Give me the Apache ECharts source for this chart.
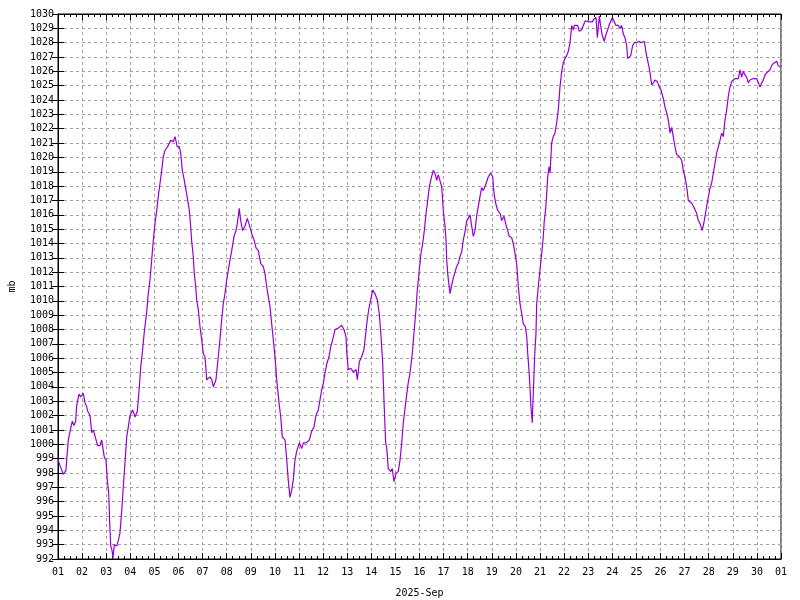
<!DOCTYPE html>
<html><head><meta charset="utf-8">
<script src="https://cdn.jsdelivr.net/npm/echarts@6/dist/echarts.min.js"></script>
<style>html,body{margin:0;padding:0;background:#fff}#c{width:800px;height:600px}</style>
</head><body><div id="c"></div>
<script>
// hours since 2025-09-01 00:00
const hours = [0,1.0,5.3,8.0,8.7,10.3,12.6,14.2,15.9,17.6,18.6,20.9,22.6,25.2,26.9,28.6,29.6,31.9,33.6,35.2,37.5,39.5,41.8,43.5,45.1,46.1,47.8,49.1,50.5,51.5,52.5,53.8,54.8,56.1,58.5,60.1,61.7,63.4,65.0,66.7,68.4,70.0,71.7,74.4,76.7,79.0,81.0,82.4,84.0,
85.9,88.3,89.9,91.6,93.3,94.9,96.6,98.3,99.9,101.6,103.3,104.9,106.6,109.2,112.2,114.8,116.5,118.8,120.8,122.2,123.8,125.8,127.5,129.2,130.8,132.1,133.1,134.7,135.7,137.1,138.1,139.7,141.4,143.1,144.7,146.4,148.1,151.4,153.1,154.7,157.3,159.6,161.3,163.0,164.6,166.3,168.0,169.6,171.3,173.0,175.3,177.3,178.6,180.5,181.9,183.9,186.2,188.5,190.5,192.9,195.2,197.2,199.5,201.9,204.4,206.1,207.8,209.4,211.1,212.8,215.1,216.8,217.8,
220.1,221.8,223.4,226.1,227.8,229.3,231.0,232.7,234.3,236.0,237.7,240.3,242.7,244.3,247.0,250.3,252.6,254.9,256.9,259.2,260.9,262.6,264.2,265.9,267.6,269.9,271.6,273.6,275.9,279.1,282.5,284.8,286.8,287.5,289.1,291.5,294.1,296.8,298.1,300.1,302.4,304.7,306.4,308.0,309.7,311.4,313.4,315.7,318.0,320.0,321.7,323.4,324.6,326.3,327.3,328.9,331.3,332.9,334.6,336.6,338.9,340.6,342.3,343.9,345.6,
347.3,348.8,350.5,352.8,354.8,356.5,357.8,359.8,361.5,363.2,364.8,366.5,368.2,369.8,371.5,373.7,375.4,377.1,378.7,380.4,382.1,383.7,385.4,386.4,387.1,388.1,389.4,390.4,392.1,393.7,395.4,397.0,398.6,400.3,402.0,403.6,405.3,407.0,408.6,410.3,412.0,413.6,415.3,416.9,418.6,420.3,421.9,423.5,425.2,426.9,428.5,430.9,432.9,434.2,435.9,437.9,440.2,441.9,444.1,446.1,447.8,449.4,451.8,453.4,455.1,456.8,458.4,460.1,461.8,463.4,465.4,466.8,467.8,469.0,470.0,471.0,472.3,473.3,474.3,475.0,476.0,476.7,478.3,480.0,481.7,483.3,484.3,485.7,486.7,487.7,489.0,
490.0,491.6,493.2,494.9,496.6,498.2,499.9,501.6,503.2,504.9,506.6,508.2,509.9,511.6,513.2,514.2,515.9,517.5,519.1,521.5,523.1,524.8,527.1,529.8,532.5,533.1,535.8,537.1,539.1,540.4,542.0,544.0,545.4,547.4,548.7,550.4,552.0,553.7,555.7,558.0,559.7,561.3,563.0,564.6,566.3,567.3,568.9,570.3,572.3,573.9,576.3,578.6,580.6,582.3,583.9,585.6,586.9,588.3,589.6,591.2,592.8,594.5,596.8,598.8,600.5,602.8,604.5,606.2,607.8,609.5,611.2,612.7,614.4,616.1,618.7,621.1,622.7,624.4,626.1,627.7,629.4,631.1,632.7,634.4,636.0,637.6,639.3,641.6,643.6,645.3,647.0,649.3,650.9,652.6,654.3,655.9,657.6,659.3,660.9,662.5,664.2,665.9,667.5,669.2,670.9,672.5,674.2,675.8,677.5,679.2,680.8,682.5,684.1,685.8,687.4,689.1,690.8,692.4,694.1,695.8,697.4,699.1,700.8,702.4,704.1,705.7,707.4,709.0,710.7,712.3,714.0,715.7,717.3,719.0];
const pressure = [999.0,998.7,997.9,998.2,999.0,1000.3,1001.1,1001.6,1001.3,1001.6,1002.7,1003.5,1003.3,1003.55,1002.9,1002.6,1002.3,1002.0,1000.8,1001.0,1000.4,999.9,999.9,1000.3,1000.2,999.1,998.9,997.5,996.6,994.5,992.9,992.6,992.1,993.0,992.9,993.3,993.8,995.3,997.0,998.7,1000.5,1001.2,1002.0,1002.4,1001.9,1002.3,1004.0,1005.4,1006.4,
1007.8,1009.2,1010.5,1011.45,1012.85,1014.2,1015.4,1016.3,1017.3,1018.2,1019.1,1020.05,1020.5,1020.75,1021.2,1021.1,1021.45,1020.75,1020.75,1020.3,1019.1,1018.4,1017.7,1017.0,1016.3,1015.2,1014.2,1013.1,1011.9,1011.0,1010.06,1009.4,1008.2,1007.3,1006.3,1006.1,1004.5,1004.7,1004.5,1004.0,1004.5,1006.1,1007.3,1008.7,1009.8,1010.5,1011.45,1012.15,1012.85,1013.5,1014.5,1014.9,1015.4,1016.45,1015.6,1014.9,1015.2,1015.75,1015.3,1014.7,1014.25,1013.7,1013.5,1012.6,1012.4,1011.9,1011.0,1010.3,1009.6,1008.4,1006.8,1005.5,1004.5,
1002.9,1001.9,1000.5,1000.3,998.9,997.5,996.3,996.8,997.5,998.9,999.5,1000.1,999.7,1000.1,1000.1,1000.3,1000.9,1001.2,1002.0,1002.4,1003.1,1003.8,1004.25,1004.95,1005.6,1006.1,1006.8,1007.3,1008.0,1008.1,1008.3,1008.0,1007.5,1006.45,1005.2,1005.3,1005.05,1005.2,1004.5,1005.75,1006.1,1006.6,1007.7,1008.7,1009.5,1010.06,1010.75,1010.5,1010.06,1009.1,1007.5,1005.6,1003.1,1000.1,999.8,998.3,998.1,998.3,997.4,997.95,998.1,998.9,1000.1,1001.5,1002.5,
1003.5,1004.3,1004.95,1006.3,1008.0,1009.4,1010.75,1012.15,1013.3,1014.0,1014.9,1016.1,1017.0,1017.95,1018.5,1019.1,1018.9,1018.4,1018.8,1018.8,1017.95,1016.3,1015.2,1014.25,1012.85,1011.9,1011.1,1010.5,1011.1,1011.6,1012.0,1012.4,1012.6,1013.1,1013.4,1014.25,1014.8,1015.6,1015.75,1016.0,1015.2,1014.5,1014.9,1015.9,1016.6,1017.3,1017.9,1017.7,1017.95,1018.3,1018.65,1018.9,1018.65,1017.5,1016.8,1016.3,1016.1,1015.6,1015.9,1015.3,1014.9,1014.5,1014.4,1014.0,1013.3,1012.6,1011.0,1009.8,1009.1,1008.4,1008.2,1007.5,1006.3,1005.2,1004.0,1002.6,1001.5,1003.55,1005.4,1006.6,1007.7,1009.8,1011.0,1012.15,1013.3,1014.5,1015.6,1016.45,1017.5,1018.65,1019.35,
1018.9,1021.0,1021.45,1021.7,1022.4,1023.3,1024.9,1026.0,1026.6,1026.9,1027.1,1027.4,1028.0,1029.2,1028.9,1029.2,1029.2,1029.2,1028.8,1028.9,1028.9,1029.5,1029.5,1029.45,1029.45,1029.6,1029.75,1028.35,1029.85,1029.2,1028.5,1028.1,1028.5,1028.9,1029.2,1029.5,1029.75,1029.5,1029.2,1029.2,1029.0,1029.2,1028.6,1028.35,1027.8,1026.9,1026.9,1027.1,1027.8,1028.0,1028.0,1028.1,1028.0,1028.1,1028.1,1027.3,1026.85,1026.4,1025.9,1025.05,1025.2,1025.4,1025.3,1024.9,1024.7,1024.1,1023.5,1023.1,1022.6,1021.7,1022.1,1021.45,1020.75,1020.2,1020.05,1019.8,1019.1,1018.65,1017.95,1017.0,1016.9,1016.8,1016.6,1016.55,1016.1,1015.6,1015.4,1014.9,1015.6,1016.3,1017.0,1017.85,1018.2,1018.9,1019.6,1020.3,1020.4,1021.2,1021.7,1021.45,1022.6,1023.3,1024.25,1024.9,1025.3,1025.4,1025.5,1025.6,1025.5,1026.1,1025.6,1026.0,1025.75,1025.6,1025.2,1025.4,1025.5,1025.5,1025.4,1025.5,1025.4,1024.9,1025.2,1025.4,1025.75,1025.9,1026.0,1026.1,1026.4,1026.55,1026.6,1026.7,1026.4,1026.3];
const dayLabels = ['01','02','03','04','05','06','07','08','09','10','11','12','13','14','15','16','17','18','19','20','21','22','23','24','25','26','27','28','29','30','01'];
const yName = 'mb';
const xName = '2025-Sep';

const data = hours.map((h, i) => [h, pressure[i]]);
const font = 'DejaVu Sans Mono';
const gridLine = {show: true, lineStyle: {color: '#a0a0a0', type: [3, 3], width: 1}};
const chart = echarts.init(document.getElementById('c'), null, {renderer: 'canvas'});
chart.setOption({
  animation: false,
  backgroundColor: '#ffffff',
  grid: {left: 58, right: 19, top: 14, bottom: 41, outerBoundsMode: 'none', containLabel: false, show: true, borderColor: '#000', borderWidth: 1, backgroundColor: 'transparent'},
  xAxis: [{
    type: 'value', min: 0, max: 720, interval: 24, position: 'bottom',
    name: xName, nameLocation: 'middle', nameGap: 29,
    nameTextStyle: {fontFamily: font, fontSize: 10, color: '#000'},
    axisLine: {show: true, lineStyle: {color: '#000'}},
    axisTick: {show: true, inside: true, length: 6, lineStyle: {color: '#000'}},
    minorTick: {show: true, splitNumber: 4, length: 3, lineStyle: {color: '#000'}},
    axisLabel: {fontFamily: font, fontSize: 10, color: '#000', margin: 8, formatter: v => dayLabels[Math.round(v / 24)]},
    splitLine: gridLine
  }, {
    type: 'value', min: 0, max: 720, interval: 24, position: 'top',
    axisLine: {show: true, lineStyle: {color: '#000'}},
    axisTick: {show: true, inside: true, length: 6, lineStyle: {color: '#000'}},
    minorTick: {show: true, splitNumber: 4, length: 3, lineStyle: {color: '#000'}},
    axisLabel: {show: false}, splitLine: {show: false}
  }],
  yAxis: [{
    type: 'value', min: 992, max: 1030, interval: 1, position: 'left',
    name: yName, nameLocation: 'middle', nameGap: 41, nameRotate: 90,
    nameTextStyle: {fontFamily: font, fontSize: 10, color: '#000'},
    axisLine: {show: true, lineStyle: {color: '#000'}},
    axisTick: {show: true, inside: true, length: 6, lineStyle: {color: '#000'}},
    axisLabel: {fontFamily: font, fontSize: 10, color: '#000', margin: 4, formatter: v => String(v)},
    splitLine: gridLine
  }, {
    type: 'value', min: 992, max: 1030, interval: 1, position: 'right',
    axisLine: {show: true, lineStyle: {color: '#000'}},
    axisTick: {show: true, inside: true, length: 6, lineStyle: {color: '#000'}},
    axisLabel: {show: false}, splitLine: {show: false}
  }],
  series: [{
    type: 'line', data: data, xAxisIndex: 0, yAxisIndex: 0,
    showSymbol: false, symbol: 'none',
    lineStyle: {color: '#9400D3', width: 1.2},
    itemStyle: {color: '#9400D3'}
  }]
});
</script></body></html>
